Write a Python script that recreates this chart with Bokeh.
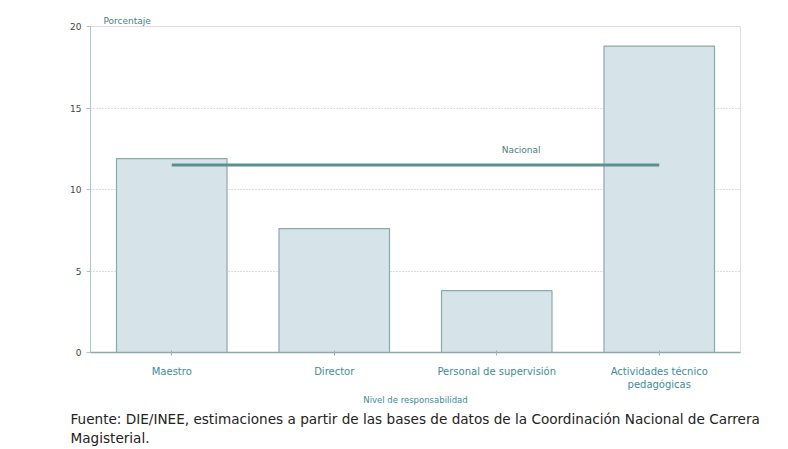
from bokeh.plotting import figure
from bokeh.models import Label, Title, Range1d, FactorRange
from bokeh.embed import file_html
from bokeh.resources import INLINE

categories = ["Maestro", "Director", "Personal de supervisión", "Actividades técnico\npedagógicas"]
values = [11.9, 7.6, 3.8, 18.8]
nacional = 11.5
y_ticks = [0, 5, 10, 15, 20]

FONT = "DejaVu Sans"
TEAL = "#3d8c99"

p = figure(x_range=FactorRange(*categories, range_padding=0), y_range=Range1d(0, 20),
           width=788, height=449, output_backend="svg", toolbar_location=None,
           min_border_left=90, min_border_right=48, min_border_top=26, min_border_bottom=97)

p.vbar(x=categories, top=values, width=0.68, fill_color="#d6e4e9", line_color="#8aa9ae", line_width=1.2)

p.segment(x0=[categories[0]], x1=[categories[-1]], y0=[nacional], y1=[nacional],
          line_color="#5b8f90", line_width=3)
p.add_layout(Label(x=2.65, y=nacional + 0.6, text="Nacional", text_font=FONT,
                   text_font_size="9px", text_color="#4a7f84", text_align="center"))

p.add_layout(Title(text="Porcentaje", text_font=FONT, text_font_size="9px", text_font_style="normal",
                   text_color="#4a7f84", align="left", offset=13, standoff=2), "above")

p.outline_line_color = "#dddddd"
p.xgrid.grid_line_color = None
p.ygrid.grid_line_color = "#bbbbbb"
p.ygrid.grid_line_dash = "1 2"
p.yaxis.ticker = y_ticks
p.yaxis.major_label_text_font = FONT
p.yaxis.major_label_text_font_size = "9px"
p.yaxis.major_label_text_color = "#444444"
p.yaxis.axis_line_color = "#aac4d0"
p.yaxis.major_tick_line_color = "#aac4d0"
p.yaxis.minor_tick_line_color = None
p.yaxis.major_tick_in = 0
p.yaxis.major_tick_out = 4

p.xaxis.axis_line_color = "#8aa9ae"
p.xaxis.axis_line_width = 1.5
p.xaxis.major_tick_line_color = "#aaaaaa"
p.xaxis.major_tick_out = 3
p.xaxis.major_label_text_font = FONT
p.xaxis.major_label_text_font_size = "10px"
p.xaxis.major_label_text_color = TEAL
p.xaxis.major_label_standoff = 10
p.xaxis.axis_label = "Nivel de responsabilidad"
p.xaxis.axis_label_text_font = FONT
p.xaxis.axis_label_text_font_size = "8.5px"
p.xaxis.axis_label_text_font_style = "normal"
p.xaxis.axis_label_text_color = TEAL
p.xaxis.axis_label_standoff = 2

p.add_layout(Title(text="Fuente: DIE/INEE, estimaciones a partir de las bases de datos de la Coordinación Nacional de Carrera",
                   text_font=FONT, text_font_size="13.6px", text_font_style="normal",
                   text_color="#222222", align="left", offset=-20, standoff=2), "below")
p.add_layout(Title(text="Magisterial.", text_font=FONT, text_font_size="13.6px", text_font_style="normal",
                   text_color="#222222", align="left", offset=-20, standoff=0), "below")

open("out.html", "w").write(file_html(p, INLINE))
